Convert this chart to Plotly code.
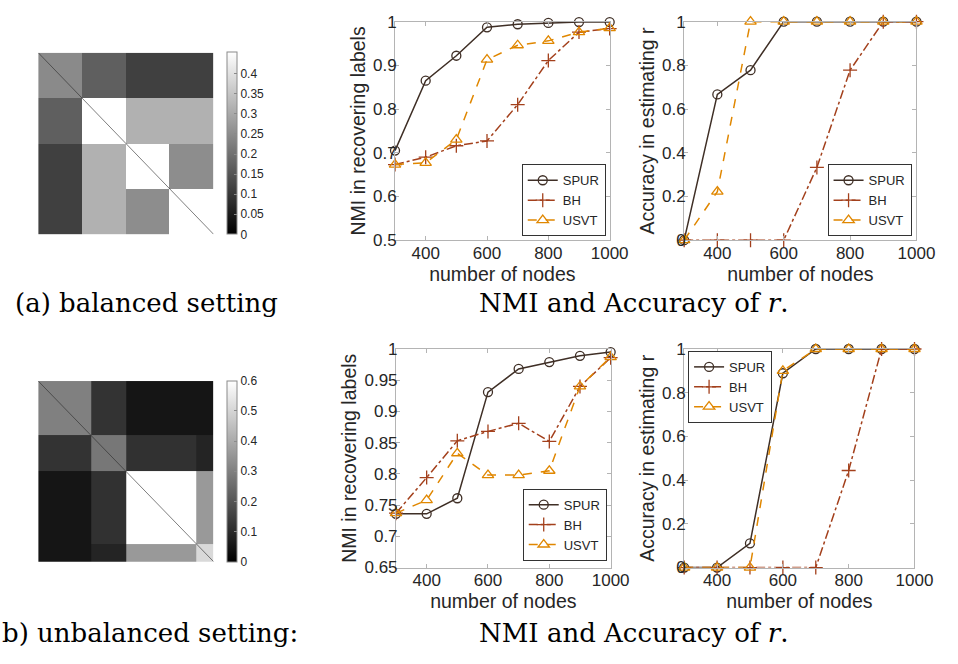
import numpy as np
import plotly.graph_objects as go

W, H = 958, 664

# ---------------- data ----------------
nodes = [300, 400, 500, 600, 700, 800, 900, 1000]

# balanced setting
bal_nmi_spur = [0.705, 0.865, 0.922, 0.987, 0.994, 0.997, 0.999, 0.999]
bal_nmi_bh   = [0.673, 0.690, 0.716, 0.727, 0.810, 0.911, 0.976, 0.984]
bal_nmi_usvt = [0.673, 0.677, 0.730, 0.913, 0.946, 0.956, 0.976, 0.985]
bal_acc_spur = [0.0, 0.667, 0.778, 1.0, 1.0, 1.0, 1.0, 1.0]
bal_acc_bh   = [0.0, 0.0, 0.0, 0.0, 0.333, 0.778, 1.0, 1.0]
bal_acc_usvt = [0.0, 0.222, 1.0, 1.0, 1.0, 1.0, 1.0, 1.0]

# unbalanced setting
unb_nmi_spur = [0.736, 0.736, 0.761, 0.931, 0.968, 0.979, 0.989, 0.995]
unb_nmi_bh   = [0.737, 0.794, 0.853, 0.868, 0.881, 0.852, 0.940, 0.986]
unb_nmi_usvt = [0.737, 0.758, 0.833, 0.798, 0.798, 0.805, 0.940, 0.987]
unb_acc_spur = [0.0, 0.0, 0.111, 0.889, 1.0, 1.0, 1.0, 1.0]
unb_acc_bh   = [0.0, 0.0, 0.0, 0.0, 0.0, 0.444, 1.0, 1.0]
unb_acc_usvt = [0.0, 0.0, 0.0, 0.9, 1.0, 1.0, 1.0, 1.0]

# block probability matrices (connection probabilities) and relative block sizes
bal_block_probs = [[0.245, 0.168, 0.113, 0.113],
                   [0.168, 0.460, 0.315, 0.315],
                   [0.113, 0.315, 0.460, 0.250],
                   [0.113, 0.315, 0.250, 0.460]]
bal_block_sizes = [1, 1, 1, 1]
bal_cbar_ticks = [0, 0.05, 0.1, 0.15, 0.2, 0.25, 0.3, 0.35, 0.4]
bal_zmax = 0.453

unb_block_probs = [[0.300, 0.120, 0.050, 0.050],
                   [0.120, 0.280, 0.115, 0.085],
                   [0.050, 0.115, 0.620, 0.360],
                   [0.050, 0.085, 0.360, 0.510]]
unb_block_sizes = [3, 2, 4, 1]
unb_cbar_ticks = [0, 0.1, 0.2, 0.3, 0.4, 0.5, 0.6]
unb_zmax = 0.6

methods = ["SPUR", "BH", "USVT"]
x_ticks = [400, 600, 800, 1000]

# ---------------- styles ----------------
FONT = "Liberation Sans, Arial, sans-serif"
SERIF = "DejaVu Serif, serif"
C_SPUR = "#3f2f26"
C_BH = "#a3401c"
C_USVT = "#e08700"
AX_COL = "#b4b4b4"
TXT = "#262626"

styles = {
    "SPUR": dict(color=C_SPUR, dash="solid", symbol="circle-open", size=9),
    "BH": dict(color=C_BH, dash="dashdot", symbol="cross-thin-open", size=10),
    "USVT": dict(color=C_USVT, dash="dash", symbol="triangle-up-open", size=10),
}


def px_dom_x(a, b):
    return [a / W, b / W]


def px_dom_y(top, bottom):
    return [1 - bottom / H, 1 - top / H]


fig = go.Figure()

# ---------------- heatmaps ----------------
heat_specs = [
    ("x", "y", bal_block_probs, bal_block_sizes, bal_zmax, bal_cbar_ticks, (39, 218, 45, 232)),
    ("x2", "y2", unb_block_probs, unb_block_sizes, unb_zmax, unb_cbar_ticks, (39, 218, 383, 569)),
]
for i, (xa, ya, probs, sizes, zmax, cticks, (l, r, t, b)) in enumerate(heat_specs):
    edges = np.concatenate([[0], np.cumsum(sizes)])
    n = edges[-1]
    fig.add_trace(go.Heatmap(
        z=probs, x=edges, y=edges, xaxis=xa, yaxis=ya,
        colorscale=[[0, "#000000"], [1, "#ffffff"]], zmin=0, zmax=zmax,
        showscale=True, xgap=0, ygap=0,
        colorbar=dict(
            x=232 / W, xanchor="left", xpad=0, ypad=0,
            y=1 - b / H, yanchor="bottom", len=(b - t) / H, lenmode="fraction",
            thickness=10, outlinewidth=1, outlinecolor="#8a8a8a",
            tickvals=cticks, ticks="inside", ticklen=3, tickcolor="#8a8a8a",
            tickfont=dict(family=FONT, size=12, color=TXT),
        ),
        hoverinfo="skip",
    ))
    # zero diagonal (no self loops) drawn as a thin line
    fig.add_trace(go.Scatter(
        x=[0, n], y=[0, n], xaxis=xa, yaxis=ya, mode="lines", showlegend=False,
        line=dict(color="rgba(40,40,40,0.75)", width=0.8), hoverinfo="skip",
    ))
    sfx = "" if i == 0 else str(i + 1)
    fig.layout["xaxis" + sfx] = dict(
        domain=px_dom_x(l, r), visible=False, range=[0, n], anchor="y" + sfx)
    fig.layout["yaxis" + sfx] = dict(
        domain=px_dom_y(t, b), visible=False, range=[n, 0], anchor="x" + sfx)

# ---------------- line charts ----------------
line_specs = [
    (3, dict(SPUR=bal_nmi_spur, BH=bal_nmi_bh, USVT=bal_nmi_usvt), [0.5, 1], 0.1,
     "NMI in recovering labels", (403, 622, 13, 238), "legend",
     dict(x=618 / W, xanchor="right", y=1 - 234 / H, yanchor="bottom")),
    (4, dict(SPUR=bal_acc_spur, BH=bal_acc_bh, USVT=bal_acc_usvt), [0, 1], 0.2,
     "Accuracy in estimating r", (698, 935, 13, 238), "legend2",
     dict(x=930 / W, xanchor="right", y=1 - 234 / H, yanchor="bottom")),
    (5, dict(SPUR=unb_nmi_spur, BH=unb_nmi_bh, USVT=unb_nmi_usvt), [0.65, 1], 0.05,
     "NMI in recovering labels", (404, 623, 350, 575), "legend3",
     dict(x=619 / W, xanchor="right", y=1 - 568 / H, yanchor="bottom")),
    (6, dict(SPUR=unb_acc_spur, BH=unb_acc_bh, USVT=unb_acc_usvt), [0, 1], 0.2,
     "Accuracy in estimating r", (698, 933, 350, 575), "legend4",
     dict(x=702 / W, xanchor="left", y=1 - 352 / H, yanchor="top")),
]

for idx, series, yr, dt, ytitle, (l, r, t, b), leg, legpos in line_specs:
    xa, ya = "x%d" % idx, "y%d" % idx
    for m in methods:
        s = styles[m]
        fig.add_trace(go.Scatter(
            x=nodes, y=series[m], xaxis=xa, yaxis=ya, name=m, legend=leg,
            mode="lines+markers", cliponaxis=False,
            line=dict(color=s["color"], dash=s["dash"], width=1.5),
            marker=dict(symbol=s["symbol"], size=s["size"], color=s["color"],
                        line=dict(color=s["color"], width=1.3)),
        ))
    fig.layout["xaxis%d" % idx] = dict(
        domain=px_dom_x(l, r), anchor=ya, range=[300, 1000], tickvals=x_ticks,
        showline=True, mirror="ticks", linecolor=AX_COL, linewidth=1,
        ticks="inside", ticklen=4, tickcolor=AX_COL, showgrid=False, zeroline=False,
        tickfont=dict(family=FONT, size=17, color=TXT), ticklabelstandoff=-3,
        title=dict(text="number of nodes", font=dict(family=FONT, size=19.5, color=TXT), standoff=0),
    )
    fig.layout["yaxis%d" % idx] = dict(
        domain=px_dom_y(t, b), anchor=xa, range=yr, dtick=dt, tick0=yr[0],
        showline=True, mirror="ticks", linecolor=AX_COL, linewidth=1,
        ticks="inside", ticklen=4, tickcolor=AX_COL, showgrid=False, zeroline=False,
        tickfont=dict(family=FONT, size=17, color=TXT), ticklabelstandoff=-6,
        title=dict(text=ytitle, font=dict(family=FONT, size=19.5, color=TXT), standoff=2),
    )
    fig.layout[leg] = dict(
        **legpos, bgcolor="white", bordercolor="#333333", borderwidth=1,
        font=dict(family=FONT, size=13, color=TXT), itemwidth=30,
        tracegroupgap=0,
    )

# ---------------- captions ----------------
captions = [
    ("(a) balanced setting", 13, 303, "left"),
    ("NMI and Accuracy of <i>r</i>.", 487, 303, "left"),
    ("b) unbalanced setting:", 0, 642, "left"),
    ("NMI and Accuracy of <i>r</i>.", 487, 642, "left"),
]
for text, xp, yp, anchor in captions:
    fig.add_annotation(text=text, x=xp / W, y=1 - yp / H, xref="paper", yref="paper",
                       xanchor=anchor, yanchor="middle", showarrow=False,
                       font=dict(family=SERIF, size=26, color="black"))

fig.update_layout(
    width=W, height=H, margin=dict(l=0, r=0, t=0, b=0),
    paper_bgcolor="white", plot_bgcolor="white", showlegend=True,
    font=dict(family=FONT, color=TXT),
)

fig.write_html("out.html")
